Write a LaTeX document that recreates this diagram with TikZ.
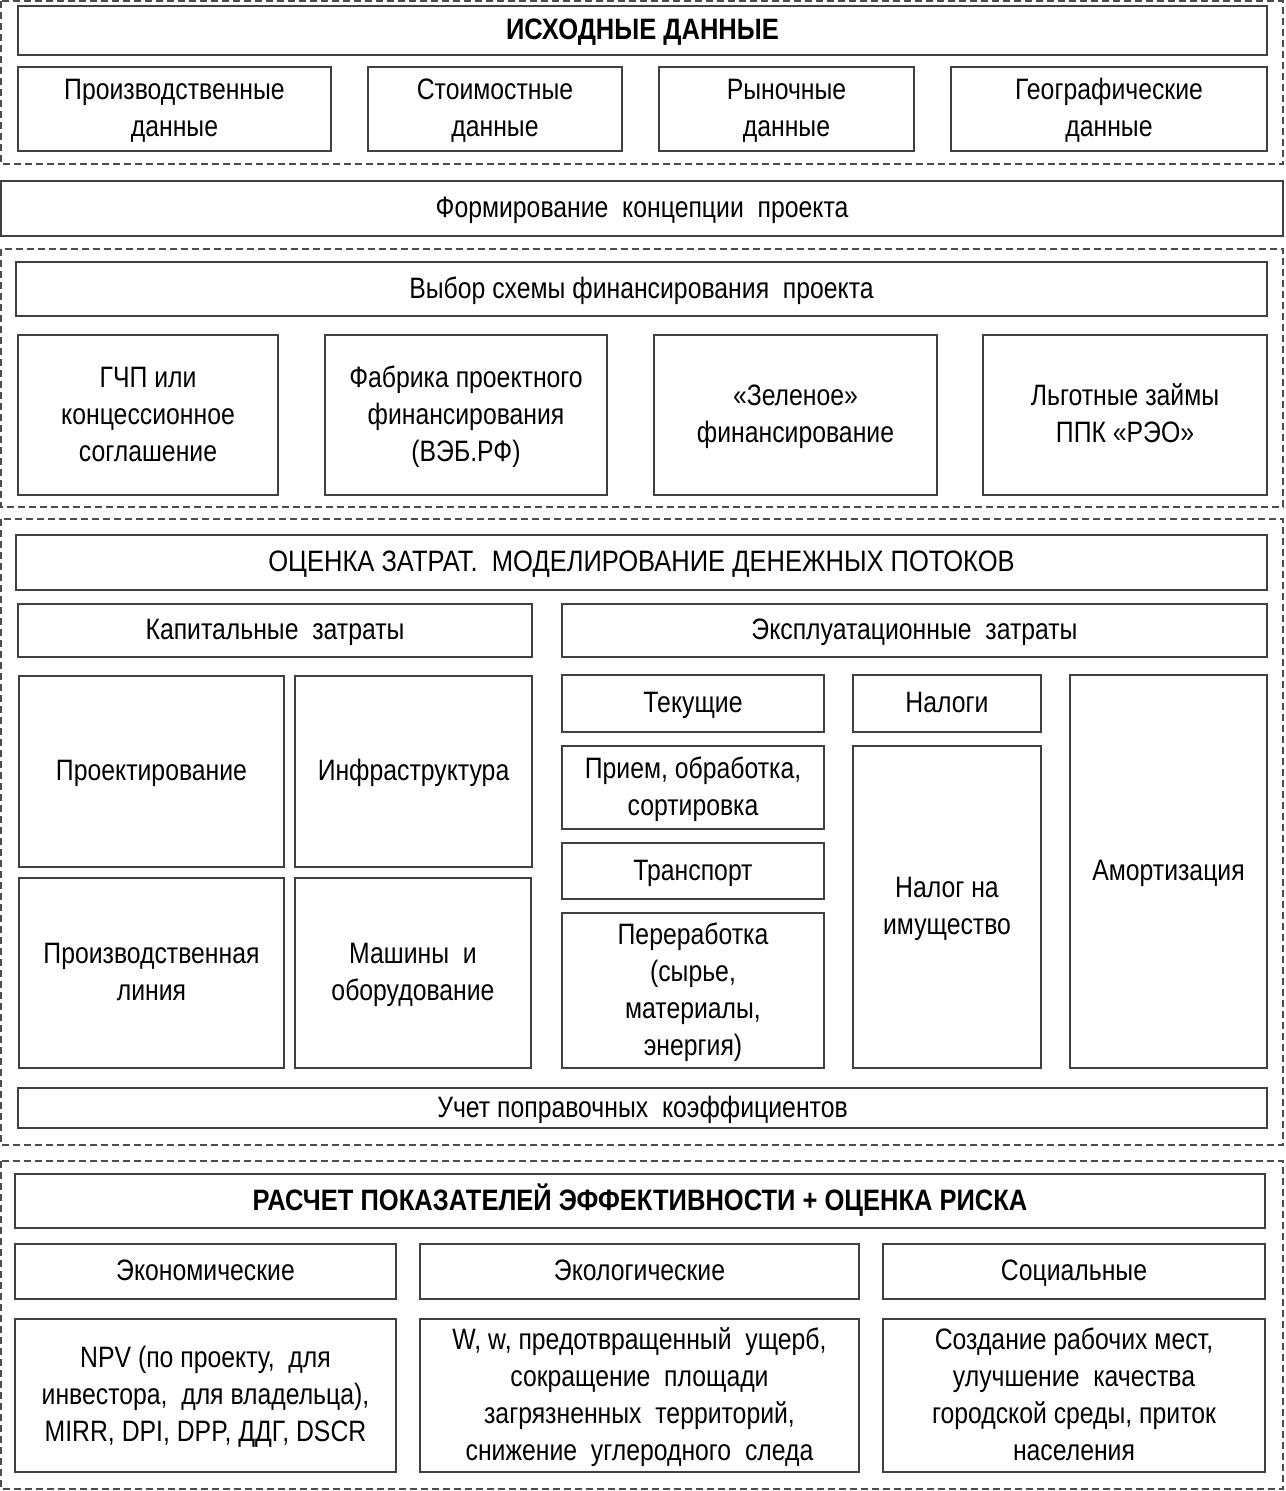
\documentclass[tikz,border=0pt]{standalone}
\usepackage{fontspec}
\setmainfont{Liberation Sans}[FakeStretch=0.84]
\newfontfamily\capsf{Liberation Sans}[FakeStretch=0.865]
\newcommand\st{\rule[-8pt]{0pt}{34pt}}
\begin{document}
\begin{tikzpicture}[x=1pt,y=-1pt,
  box/.style={draw=black!75,line width=1.6pt,inner sep=0pt,align=center,
    font=\fontsize{29.5}{37}\selectfont},
  grp/.style={draw=black!70,line width=1.5pt,dash pattern=on 7pt off 4pt}]
\useasboundingbox (0,0) rectangle (1285,1491);
\newcommand\bx[6]{\node[box,minimum width={#4-#2},minimum height={#5-#3}] (#1) at ({(#2+#4)/2},{(#3+#5)/2}) {\st #6\st};}
% group 1
\draw[grp] (1,1) rectangle (1283,164);
\bx{t1}{18}{6}{1267}{55}{\capsf\bfseries ИСХОДНЫЕ ДАННЫЕ}
\bx{d1}{18}{67}{331}{151}{Производственные\\данные}
\bx{d2}{368}{67}{622}{151}{Стоимостные\\данные}
\bx{d3}{659}{67}{914}{151}{Рыночные\\данные}
\bx{d4}{951}{67}{1267}{151}{Географические\\данные}
% concept
\bx{conc}{1}{181}{1283}{236}{Формирование\ \ концепции\ \ проекта}
% group 2
\draw[grp] (1,249) rectangle (1283,507);
\bx{fin}{16}{262}{1267}{316}{Выбор схемы финансирования\ \ проекта}
\bx{f1}{18}{335}{278}{495}{ГЧП или\\концессионное\\соглашение}
\bx{f2}{325}{335}{607}{495}{Фабрика проектного\\финансирования\\(ВЭБ.РФ)}
\bx{f3}{654}{335}{937}{495}{«Зеленое»\\финансирование}
\bx{f4}{983}{335}{1267}{495}{Льготные займы\\ППК «РЭО»}
% group 3
\draw[grp] (1,519) rectangle (1283,1145);
\bx{cost}{16}{535}{1267}{590}{\capsf ОЦЕНКА ЗАТРАТ.\ \ МОДЕЛИРОВАНИЕ ДЕНЕЖНЫХ ПОТОКОВ}
\bx{cap}{18}{604}{532}{657}{Капитальные\ \ затраты}
\bx{op}{562}{604}{1267}{657}{Эксплуатационные\ \ затраты}
\bx{c1}{19}{676}{284}{867}{Проектирование}
\bx{c2}{295}{676}{532}{867}{Инфраструктура}
\bx{c3}{19}{878}{284}{1068}{Производственная\\линия}
\bx{c4}{295}{878}{531}{1068}{Машины\ \ и\\оборудование}
\bx{o1}{562}{675}{824}{732}{Текущие}
\bx{o2}{562}{746}{824}{829}{Прием,\ обработка,\\сортировка}
\bx{o3}{562}{843}{824}{899}{Транспорт}
\bx{o4}{562}{913}{824}{1068}{Переработка\\(сырье,\\материалы,\\энергия)}
\bx{n1}{853}{675}{1041}{732}{Налоги}
\bx{n2}{853}{746}{1041}{1068}{Налог на\\имущество}
\bx{am}{1070}{675}{1267}{1068}{Амортизация}
\bx{corr}{18}{1088}{1267}{1128}{Учет\ поправочных\ \ коэффициентов}
% group 4
\draw[grp] (1,1161) rectangle (1283,1489);
\bx{eff}{15}{1174}{1265}{1228}{\capsf\bfseries РАСЧЕТ ПОКАЗАТЕЛЕЙ ЭФФЕКТИВНОСТИ + ОЦЕНКА РИСКА}
\bx{e1}{15}{1244}{396}{1299}{Экономические}
\bx{e2}{420}{1244}{859}{1299}{Экологические}
\bx{e3}{883}{1244}{1265}{1299}{Социальные}
\bx{r1}{15}{1319}{396}{1472}{NPV (по проекту,\ \ для\\инвестора,\ \ для владельца),\\MIRR, DPI, DPP, ДДГ, DSCR}
\bx{r2}{420}{1319}{859}{1472}{W, w, предотвращенный\ \ ущерб,\\сокращение\ \ площади\\загрязненных\ \ территорий,\\снижение\ \ углеродного\ \ следа}
\bx{r3}{883}{1319}{1265}{1472}{Создание рабочих мест,\\улучшение\ \ качества\\городской среды, приток\\населения}
\end{tikzpicture}
\end{document}
